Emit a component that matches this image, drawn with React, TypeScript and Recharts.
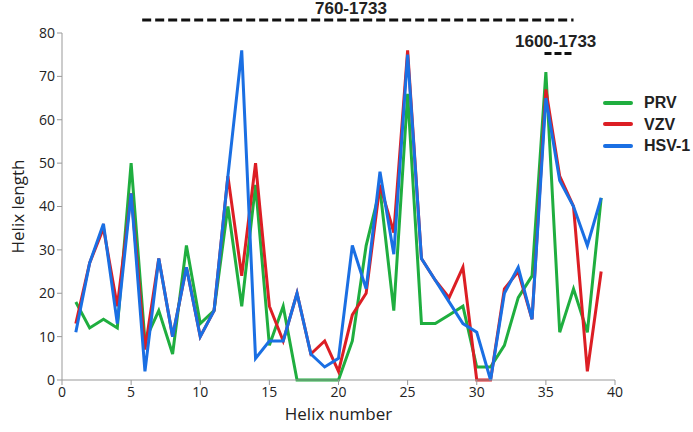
import { LineChart, Line, XAxis, YAxis, ReferenceLine } from 'recharts'

// helix index 1..39
const helix = [
  1, 2, 3, 4, 5, 6, 7, 8, 9, 10, 11, 12, 13, 14, 15, 16, 17, 18, 19, 20,
  21, 22, 23, 24, 25, 26, 27, 28, 29, 30, 31, 32, 33, 34, 35, 36, 37, 38, 39,
]
const prv = [
  18, 12, 14, 12, 50, 9, 16, 6, 31, 13, 16, 40, 17, 45, 8, 17, 0, 0, 0, 0,
  9, 31, 44, 16, 66, 13, 13, 15, 17, 3, 3, 8, 19, 24, 71, 11, 21, 11, 42,
]
const vzv = [
  13, 27, 35, 17, 43, 7, 28, 10, 26, 10, 16, 47, 24, 50, 17, 9, 20, 6, 9, 2,
  15, 20, 45, 34, 76, 28, 23, 19, 26, 0, 0, 21, 25, 14, 67, 47, 40, 2, 25,
]
const hsv = [
  11, 27, 36, 13, 43, 2, 28, 10, 26, 10, 16, 47, 76, 5, 9, 9, 20, 6, 3, 5,
  31, 21, 48, 29, 75, 28, 23, 18, 13, 11, 0, 20, 26, 14, 65, 46, 40, 31, 42,
]
const xTicks = [0, 5, 10, 15, 20, 25, 30, 35, 40]
const yTicks = [0, 10, 20, 30, 40, 50, 60, 70, 80]

const legendItems = [
  { name: 'PRV', color: '#1fae3f' },
  { name: 'VZV', color: '#dc1e24' },
  { name: 'HSV-1', color: '#1a6fe3' },
]

const data = helix.map((h, i) => ({ h, prv: prv[i], vzv: vzv[i], hsv: hsv[i] }))

const tickStyle = { fontSize: 14, fill: '#222', fontFamily: 'Open Sans' }
const boldText = {
  position: 'absolute' as const,
  fontFamily: 'Liberation Sans, Arial',
  fontWeight: 700,
  fontSize: 17,
  lineHeight: '17px',
  color: '#222',
  whiteSpace: 'nowrap' as const,
}

export default function App() {
  return (
    <div style={{ position: 'absolute', left: 0, top: 0, width: 693, height: 432, background: '#fff' }}>
      <LineChart width={693} height={432} data={data} margin={{ top: 33, right: 78, bottom: 0, left: 0 }}>
        <XAxis
          dataKey="h"
          type="number"
          domain={[0, 40]}
          ticks={xTicks}
          height={52}
          stroke="#999"
          tick={tickStyle}
          tickSize={5}
          label={{ value: 'Helix number', position: 'insideBottom', offset: 12, fontSize: 17, fill: '#222', fontFamily: 'Open Sans' }}
        />
        <YAxis
          width={62}
          domain={[0, 80]}
          ticks={yTicks}
          stroke="#999"
          tick={tickStyle}
          tickSize={5}
          label={{ value: 'Helix length', angle: -90, position: 'insideLeft', offset: 18, fontSize: 17, fill: '#222', fontFamily: 'Open Sans', style: { textAnchor: 'middle' } }}
        />
        <ReferenceLine
          segment={[{ x: 5.8, y: 83 }, { x: 37, y: 83 }]}
          ifOverflow="visible"
          stroke="#111"
          strokeWidth={3}
          strokeDasharray="9 4"
        />
        <ReferenceLine
          segment={[{ x: 34.9, y: 75.3 }, { x: 37, y: 75.3 }]}
          ifOverflow="visible"
          stroke="#111"
          strokeWidth={3}
          strokeDasharray="7 3"
        />
        <Line type="linear" dataKey="prv" stroke="#1fae3f" strokeWidth={3} dot={false} isAnimationActive={false} />
        <Line type="linear" dataKey="vzv" stroke="#dc1e24" strokeWidth={3} dot={false} isAnimationActive={false} />
        <Line type="linear" dataKey="hsv" stroke="#1a6fe3" strokeWidth={3} dot={false} isAnimationActive={false} />
      </LineChart>
      <div style={{ ...boldText, left: 315, top: 0 }}>760-1733</div>
      <div style={{ ...boldText, left: 515, top: 33 }}>1600-1733</div>
      {legendItems.map((it, i) => (
        <div key={it.name} style={{ position: 'absolute', left: 603, top: 94 + i * 21.5, display: 'flex', alignItems: 'center' }}>
          <div style={{ width: 30, height: 4, background: it.color, borderRadius: 2 }} />
          <span style={{ ...boldText, position: 'static', marginLeft: 11, fontSize: 16 }}>{it.name}</span>
        </div>
      ))}
    </div>
  )
}
